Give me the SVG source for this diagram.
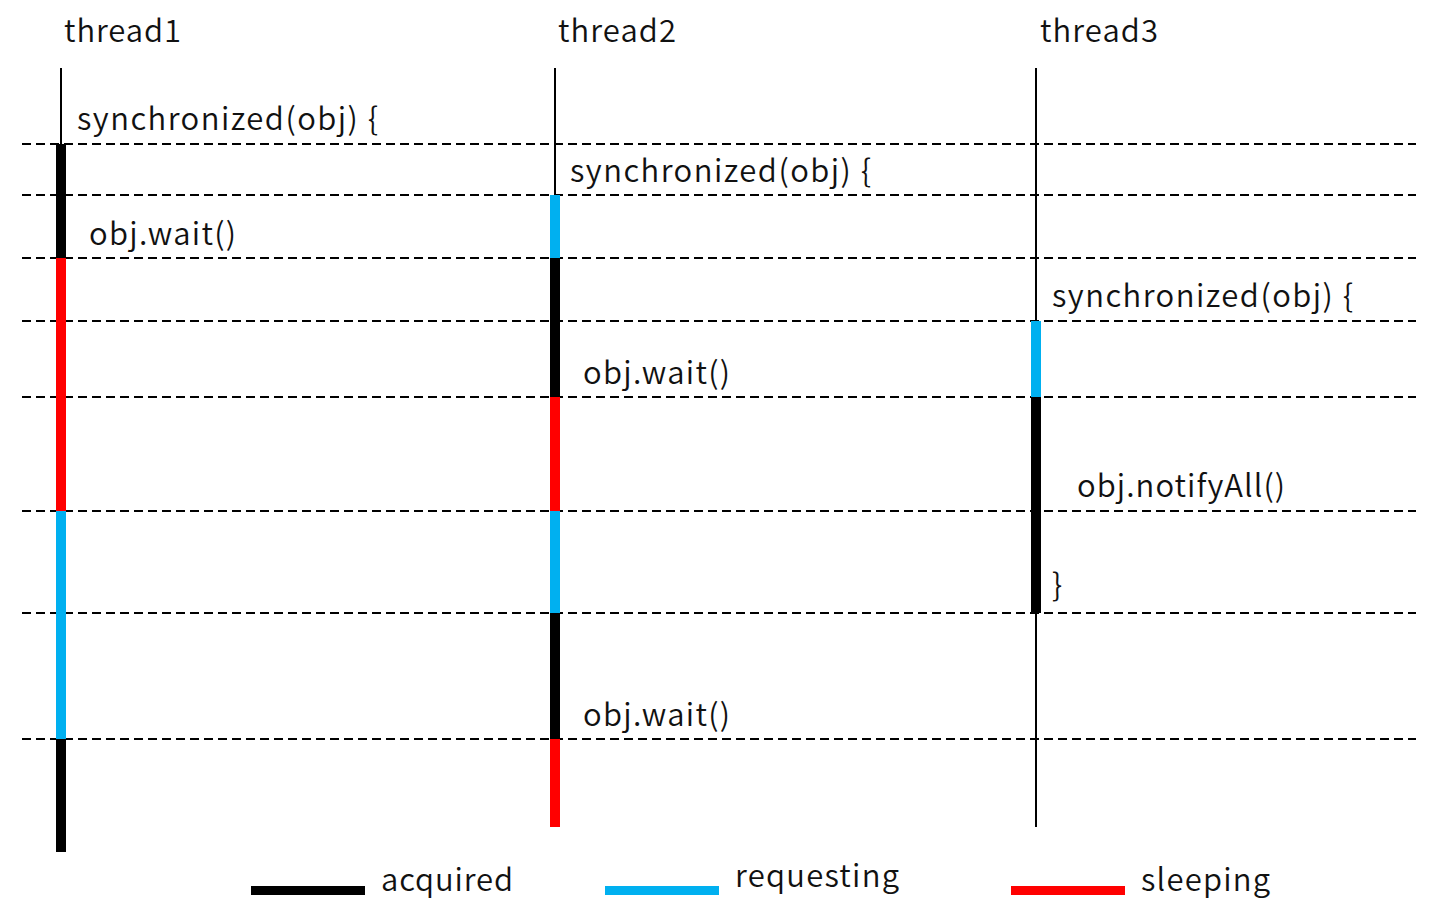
<svg xmlns="http://www.w3.org/2000/svg" width="1433" height="909" viewBox="0 0 1433 909">
<style>
text{font-family:"Noto Sans CJK JP","Noto Sans",sans-serif;font-weight:350;font-size:31px;fill:#111}
.dash{stroke:#000;stroke-width:2;stroke-dasharray:9 5;fill:none}
.life{stroke:#000;stroke-width:2}
.acq{fill:#000}.req{fill:#00b0f0}.slp{fill:#ff0000}
</style>
<rect width="1433" height="909" fill="#fff"/>
<g id="connectors">
<line class="dash" x1="22" y1="144" x2="1416" y2="144"/>
<line class="dash" x1="22" y1="195" x2="1416" y2="195"/>
<line class="dash" x1="22" y1="258" x2="1416" y2="258"/>
<line class="dash" x1="22" y1="321" x2="1416" y2="321"/>
<line class="dash" x1="22" y1="397" x2="1416" y2="397"/>
<line class="dash" x1="22" y1="511" x2="1416" y2="511"/>
<line class="dash" x1="22" y1="613" x2="1416" y2="613"/>
<line class="dash" x1="22" y1="739" x2="1416" y2="739"/>
</g>
<g id="thread1">
<text x="64" y="42" textLength="117">thread1</text>
<line class="life" x1="61" y1="68" x2="61" y2="144"/>
<rect class="acq" x="56" y="144" width="10" height="114"/>
<rect class="slp" x="56" y="258" width="10" height="253"/>
<rect class="req" x="56" y="511" width="10" height="228"/>
<rect class="acq" x="56" y="739" width="10" height="113"/>
<text x="77" y="130" textLength="301">synchronized(obj) {</text>
<text x="89" y="245" textLength="147">obj.wait()</text>
</g>
<g id="thread2">
<text x="558" y="42" textLength="118">thread2</text>
<line class="life" x1="555" y1="68" x2="555" y2="195"/>
<rect class="req" x="550" y="195" width="10" height="63"/>
<rect class="acq" x="550" y="258" width="10" height="139"/>
<rect class="slp" x="550" y="397" width="10" height="114"/>
<rect class="req" x="550" y="511" width="10" height="102"/>
<rect class="acq" x="550" y="613" width="10" height="126"/>
<rect class="slp" x="550" y="739" width="10" height="88"/>
<text x="570" y="182" textLength="301">synchronized(obj) {</text>
<text x="583" y="384" textLength="147">obj.wait()</text>
<text x="583" y="726" textLength="147">obj.wait()</text>
</g>
<g id="thread3">
<text x="1040" y="42" textLength="118">thread3</text>
<line class="life" x1="1036" y1="68" x2="1036" y2="827"/>
<rect class="req" x="1031" y="321" width="10" height="76"/>
<rect class="acq" x="1031" y="397" width="10" height="216"/>
<text x="1052" y="307" textLength="301">synchronized(obj) {</text>
<text x="1077" y="497" textLength="208">obj.notifyAll()</text>
<text x="1052" y="596">}</text>
</g>
<g id="legend">
<rect class="acq" x="251" y="886" width="114" height="9"/>
<text x="381" y="891" textLength="132">acquired</text>
<rect class="req" x="605" y="886" width="114" height="9"/>
<text x="735" y="887" textLength="164">requesting</text>
<rect class="slp" x="1011" y="886" width="114" height="9"/>
<text x="1141" y="891" textLength="129">sleeping</text>
</g>
</svg>
